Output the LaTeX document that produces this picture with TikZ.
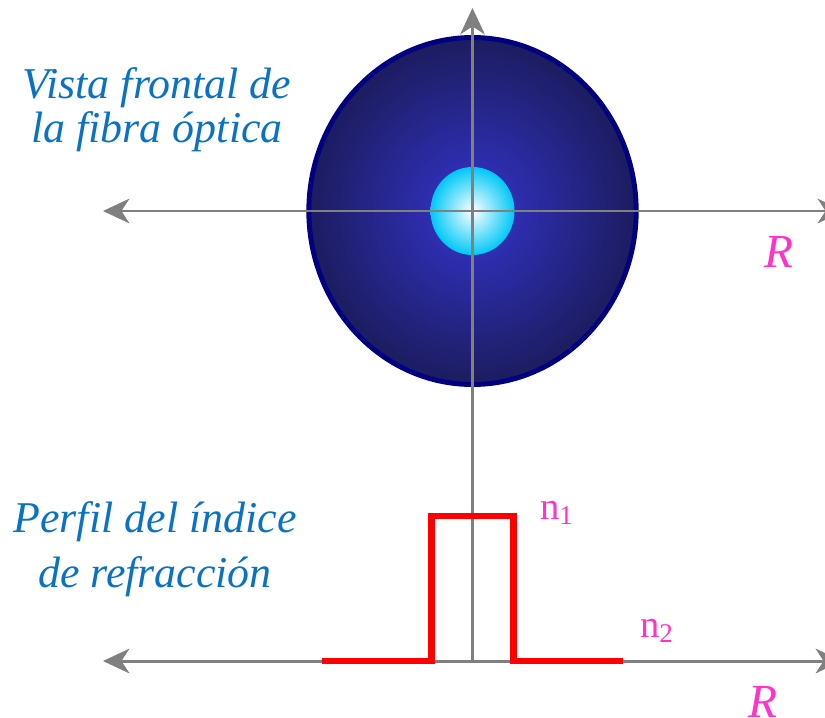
\documentclass[tikz,border=0pt]{standalone}
\usepackage{fontspec}
\setmainfont{Liberation Serif}[ItalicFont={Liberation Serif Italic}]
\usetikzlibrary{arrows.meta}
\definecolor{AxisGray}{HTML}{808080}
\definecolor{Cladding}{HTML}{000080}
\definecolor{CladIn}{HTML}{3434CD}
\definecolor{CladOut}{HTML}{1C1C5F}
\definecolor{CoreOut}{HTML}{00C8F5}
\definecolor{Caption}{HTML}{0A72C4}
\definecolor{Label}{HTML}{FF33CC}
\definecolor{Profile}{HTML}{FF0000}
\tikzset{
    >={Stealth[length=15pt, width=14pt, inset=4.5pt]},
    axis/.style={<->, line width=1.7pt, color=AxisGray},
    upaxis/.style={->, line width=1.7pt, color=AxisGray},
    caption/.style={text=Caption, align=center, font=\itshape\fontsize{25}{25}\selectfont},
    rlabel/.style={text=Label, font=\itshape\fontsize{27}{27}\selectfont},
    nlabel/.style={text=Label, font=\fontsize{22}{22}\selectfont},
    profile/.style={line width=3.7pt, color=Profile},
}
\begin{document}
\begin{tikzpicture}[x=0.02cm, y=-0.02cm]
    \useasboundingbox (0,0) rectangle (825,717);
    % fibra vista de frente
    \coordinate (O) at (472.5,211);
    \shade[inner color=CladIn, outer color=CladOut] (O) ellipse [x radius=163.7, y radius=173.5];
    \draw[Cladding, line width=2.8pt] (O) ellipse [x radius=163.7, y radius=173.5];
    \shade[inner color=white, outer color=CoreOut] (O) ellipse [x radius=42, y radius=44];

    % ejes
    \coordinate (xL) at (103,211);
    \coordinate (xR) at (844,211);
    \coordinate (pL) at (103,661);
    \coordinate (pR) at (842,661);
    \coordinate (yB) at (472.5,661);
    \coordinate (yT) at (472.5,8);
    \draw[axis] (xL) -- (xR);
    \draw[axis] (pL) -- (pR);
    \draw[upaxis] (yB) -- (yT);

    % perfil del indice
    \coordinate (a) at (322,661);
    \coordinate (b) at (431.5,661);
    \coordinate (c) at (431.5,516);
    \coordinate (d) at (513.5,516);
    \coordinate (e) at (513.5,661);
    \coordinate (f) at (623,661);
    \draw[profile] (a) -- (b) -- (c) -- (d) -- (e) -- (f);

    % textos
    \node[caption] (front) at (157,110) {Vista frontal de\\la fibra óptica};
    \node[caption, font=\itshape\fontsize{25}{31}\selectfont] (perfil) at (155,549) {Perfil del índice\\de refracción};
    \node[rlabel] (R1) at (779,252) {R};
    \node[rlabel] (R2) at (763,702) {R};
    \node[nlabel] (n1) at (557,513) {n\textsubscript{1}};
    \node[nlabel] (n2) at (657,631) {n\textsubscript{2}};
\end{tikzpicture}
\end{document}
